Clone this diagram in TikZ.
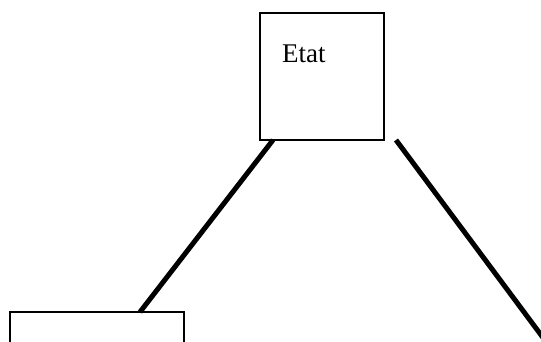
\documentclass[tikz,border=0pt]{standalone}
\usepackage{fontspec}
\setmainfont{Liberation Serif}
\usetikzlibrary{calc}

\begin{document}
\begin{tikzpicture}[x=1pt,y=-1pt]
\tikzset{boite/.style={draw,line width=1.5pt,minimum width=124pt,inner sep=0pt,outer sep=0pt}}
\useasboundingbox (0,0) rectangle (541,342);
\clip (0,0) rectangle (541,342);
\node[boite,minimum height=127pt] (etat) at (322,76.5) {};
\node[boite,minimum width=174pt,minimum height=80pt] (bas) at (97,352) {};
\node[anchor=base west,font=\fontsize{27}{32}\selectfont,inner sep=0pt] (etattxt) at (282,63) {Etat};
\coordinate (EA) at ($(etat.south west)+(13,0)$);
\coordinate (BA) at ($(bas.north west)+(130,0)$);
\coordinate (EB) at ($(etat.south east)+(12,0)$);
\coordinate (FIN) at (547,343);
\draw[line width=5pt] (EA)--(BA);
\draw[line width=5pt] (EB)--(FIN);
%\draw (etat.south)--(bas.north);
\end{tikzpicture}
\end{document}
